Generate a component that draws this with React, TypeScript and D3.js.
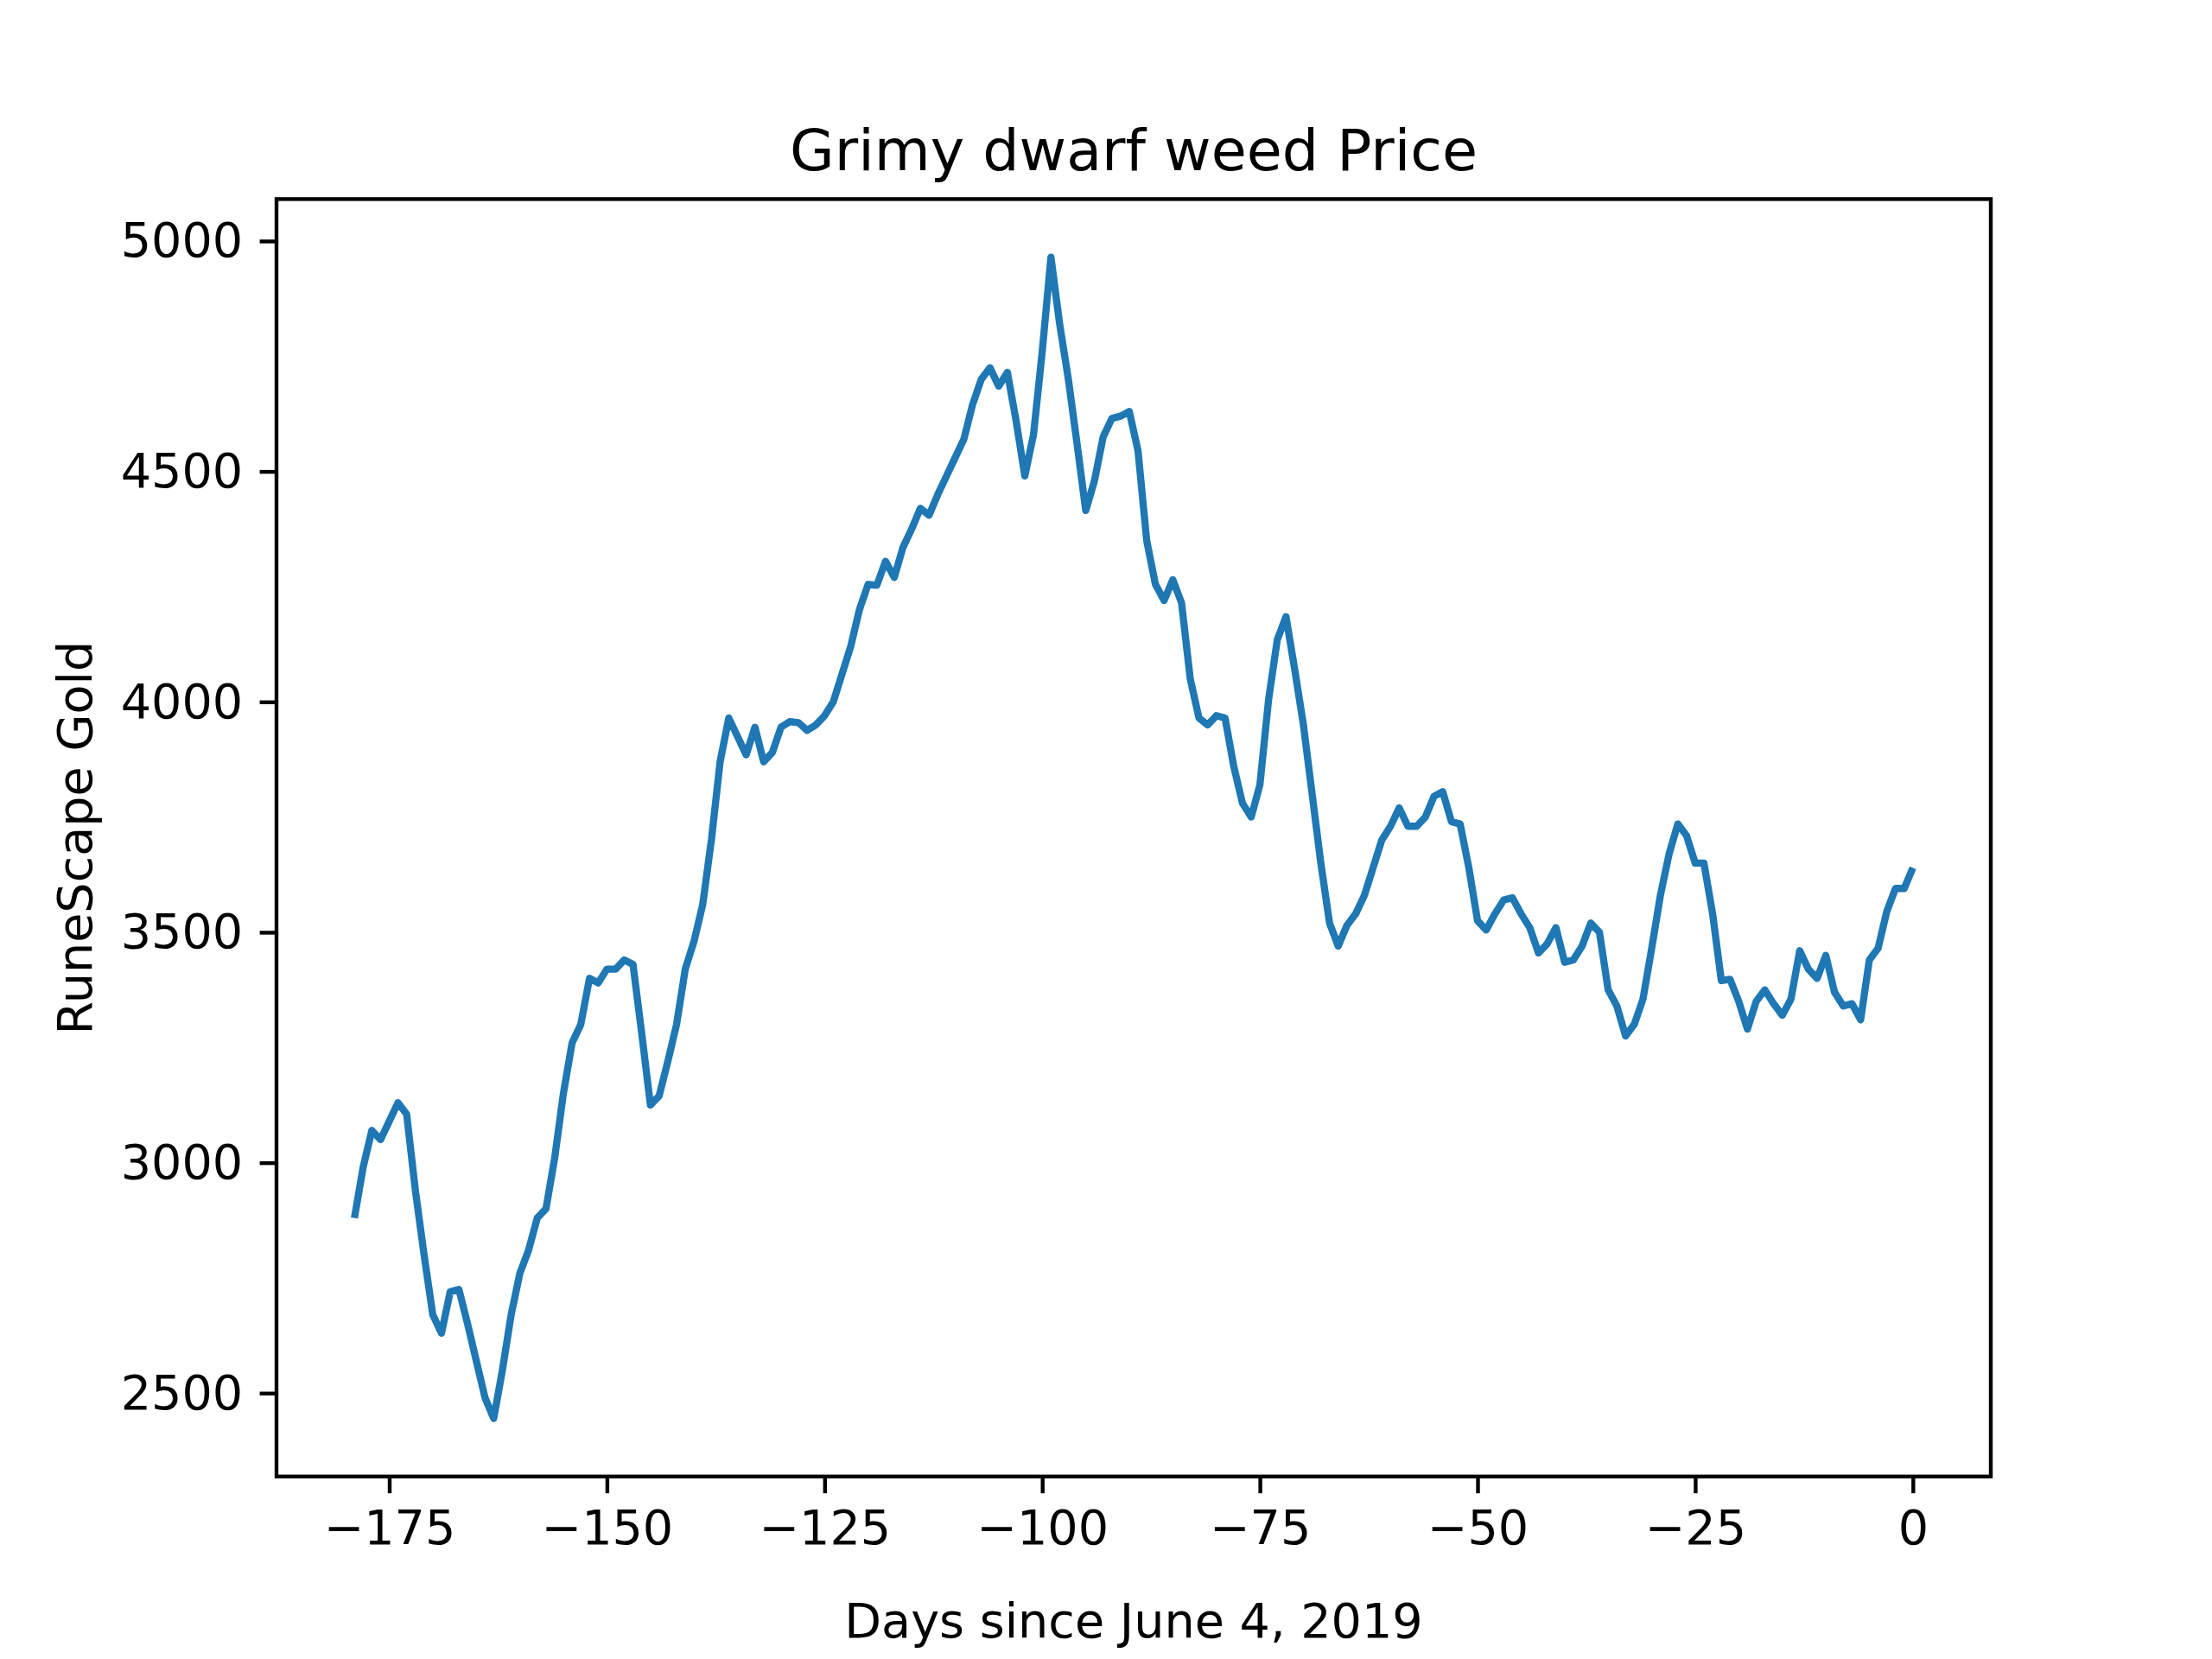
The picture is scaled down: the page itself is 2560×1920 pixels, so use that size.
import React, { useRef, useEffect } from 'react';
import * as d3 from 'd3';

// days since June 4, 2019 run from -179 to 0, one price per day
const startDay = -179;
const prices: number[] = [
  2880, 2990, 3070, 3050, 3090, 3130, 3105, 2940, 2800, 2670,
  2630, 2720, 2725, 2650, 2570, 2490, 2445, 2550, 2670, 2760,
  2810, 2880, 2900, 3010, 3150, 3260, 3300, 3400, 3390, 3420,
  3420, 3440, 3430, 3280, 3125, 3145, 3220, 3300, 3420, 3480,
  3560, 3700, 3870, 3965, 3925, 3885, 3945, 3870, 3890, 3945,
  3957, 3955, 3938, 3950, 3970, 4000, 4060, 4120, 4200, 4255,
  4253, 4305, 4270, 4335, 4375, 4420, 4405, 4450, 4490, 4530,
  4570, 4645, 4700, 4725, 4685, 4715, 4610, 4490, 4580, 4760,
  4965, 4820, 4700, 4560, 4415, 4480, 4575, 4615, 4620, 4630,
  4545, 4350, 4255, 4220, 4265, 4215, 4050, 3965, 3950, 3970,
  3965, 3860, 3780, 3750, 3820, 4005, 4135, 4185, 4070, 3950,
  3800, 3650, 3520, 3470, 3515, 3540, 3580, 3640, 3700, 3730,
  3770, 3730, 3730, 3750, 3795, 3805, 3740, 3735, 3640, 3525,
  3505, 3540, 3570, 3575, 3540, 3510, 3455, 3475, 3510, 3435,
  3440, 3470, 3520, 3500, 3375, 3340, 3275, 3300, 3355, 3465,
  3580, 3670, 3735, 3710, 3650, 3650, 3540, 3395, 3398, 3350,
  3290, 3350, 3375, 3345, 3320, 3355, 3460, 3420, 3400, 3450,
  3370, 3340, 3345, 3310, 3440, 3465, 3545, 3595, 3595, 3640,
];
const xTicks = [-175, -150, -125, -100, -75, -50, -25, 0];
const yTicks = [2500, 3000, 3500, 4000, 4500, 5000];

const W = 2560;
const H = 1920;
const margin = { left: 320, right: 256, top: 230.4, bottom: 211.2 };
const FONT = 'DejaVu Sans, sans-serif';

const App: React.FC = () => {
  const svgRef = useRef<SVGSVGElement | null>(null);

  useEffect(() => {
    document.body.style.margin = '0';
    const svg = d3.select(svgRef.current);
    svg.selectAll('*').remove();

    const iw = W - margin.left - margin.right;
    const ih = H - margin.top - margin.bottom;
    const data = prices.map((v, i) => ({ day: startDay + i, value: v }));

    const xExt = d3.extent(data, d => d.day) as [number, number];
    const yExt = d3.extent(data, d => d.value) as [number, number];
    const xPad = (xExt[1] - xExt[0]) * 0.05;
    const yPad = (yExt[1] - yExt[0]) * 0.05;

    const x = d3.scaleLinear().domain([xExt[0] - xPad, xExt[1] + xPad]).range([0, iw]);
    const y = d3.scaleLinear().domain([yExt[0] - yPad, yExt[1] + yPad]).range([ih, 0]);

    svg.append('rect').attr('width', W).attr('height', H).attr('fill', '#fff');

    const g = svg.append('g').attr('transform', `translate(${margin.left},${margin.top})`);

    g.append('path')
      .datum(data)
      .attr('fill', 'none')
      .attr('stroke', '#1f77b4')
      .attr('stroke-width', 8.33)
      .attr('stroke-linejoin', 'round')
      .attr('d', d3.line<{ day: number; value: number }>().x(d => x(d.day)).y(d => y(d.value)));

    const xAxis = g.append('g')
      .attr('transform', `translate(0,${ih})`)
      .call(d3.axisBottom(x).tickValues(xTicks).tickSize(19.4).tickPadding(19.4).tickFormat(d3.format('d')));
    const yAxis = g.append('g')
      .call(d3.axisLeft(y).tickValues(yTicks).tickSize(19.4).tickPadding(19.4).tickFormat(d3.format('d')));

    [xAxis, yAxis].forEach(a => {
      a.select('.domain').remove();
      a.selectAll('line').attr('stroke', '#000').attr('stroke-width', 4.4);
      a.selectAll('text').attr('font-family', FONT).attr('font-size', 55.6).attr('fill', '#000');
    });

    g.append('rect')
      .attr('width', iw).attr('height', ih)
      .attr('fill', 'none').attr('stroke', '#000').attr('stroke-width', 4.4);

    svg.append('text')
      .attr('x', margin.left + iw / 2).attr('y', margin.top - 33)
      .attr('text-anchor', 'middle').attr('font-family', FONT).attr('font-size', 66.7)
      .text('Grimy dwarf weed Price');

    svg.append('text')
      .attr('x', margin.left + iw / 2).attr('y', 1895)
      .attr('text-anchor', 'middle').attr('font-family', FONT).attr('font-size', 55.6)
      .text('Days since June 4, 2019');

    svg.append('text')
      .attr('transform', `translate(106,${margin.top + ih / 2}) rotate(-90)`)
      .attr('text-anchor', 'middle').attr('font-family', FONT).attr('font-size', 55.6)
      .text('RuneScape Gold');
  }, []);

  return <svg ref={svgRef} width={W} height={H} style={{ display: 'block' }} />;
};

export default App;
